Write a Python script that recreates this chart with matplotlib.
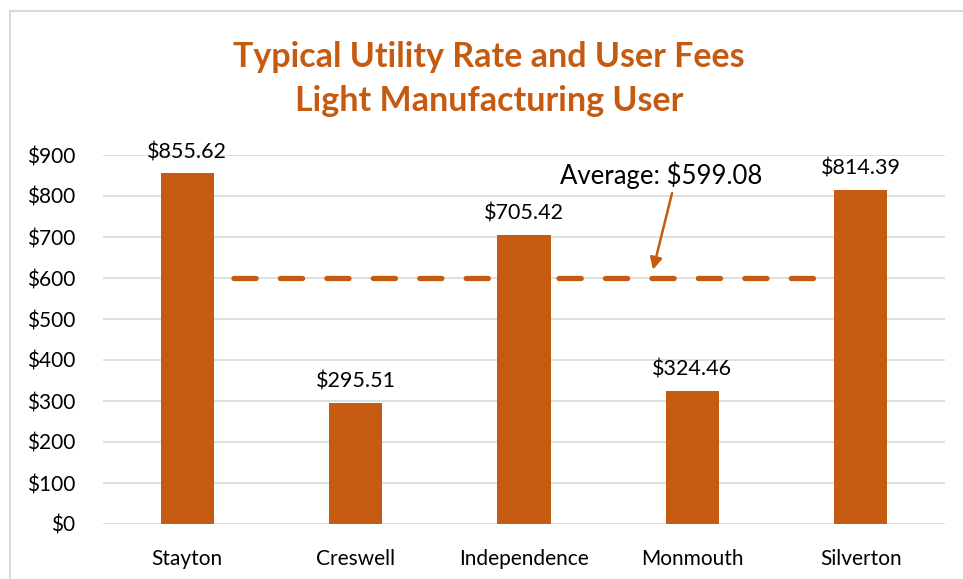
import matplotlib
matplotlib.use("Agg")
import matplotlib.pyplot as plt
from matplotlib.lines import Line2D

cities = ["Stayton", "Creswell", "Independence", "Monmouth", "Silverton"]
values = [855.62, 295.51, 705.42, 324.46, 814.39]
average = 599.08
yticks = [0, 100, 200, 300, 400, 500, 600, 700, 800, 900]

orange = "#C55A11"
plt.rcParams['font.family'] = ['Lato', 'DejaVu Sans']

fig = plt.figure(figsize=(9.63, 5.79), dpi=100)
ax = fig.add_axes([103/963, 1-524/579, 842/963, (524-155)/579])

x = list(range(len(cities)))
ax.bar(x, values, width=0.315, color=orange, zorder=3)
ax.plot([x[0], x[-1]], [average, average], color=orange, lw=3.8,
        dashes=(4.2, 4.6), dash_capstyle='round', zorder=2)

for xi, v in zip(x, values):
    ax.annotate(f"${v:,.2f}", (xi, v), xytext=(0, 8), textcoords='offset points',
                ha='center', va='bottom', fontsize=15.5, color='black')

ax.set_xlim(-0.5, len(cities) - 0.5)
ax.set_ylim(0, 900)
ax.set_yticks(yticks)
ax.set_yticklabels([f"${t}" for t in yticks], fontsize=15)
ax.set_xticks(x)
ax.set_xticklabels(cities, fontsize=15)
ax.tick_params(axis='x', length=0, pad=18)
ax.tick_params(axis='y', length=0, pad=20)
ax.grid(axis='y', color='#D9D9D9', lw=1.2, zorder=0)
for s in ax.spines.values():
    s.set_visible(False)

ax.text(2.813, 851, f"Average: ${average:.2f}", ha='center', va='center',
        fontsize=18.5, color='black')
ax.annotate("", xy=(2.766, 620), xytext=(2.879, 807),
            arrowprops=dict(arrowstyle='-|>', color=orange, lw=1.8,
                            mutation_scale=18, shrinkA=0, shrinkB=0))

fig.text(0.508, 1-57/579, "Typical Utility Rate and User Fees", ha='center', va='center',
         fontsize=24.5, fontweight='bold', color=orange)
fig.text(0.508, 1-101/579, "Light Manufacturing User", ha='center', va='center',
         fontsize=24.5, fontweight='bold', color=orange)

bx, by = 9.5/963, 1-11/579
fig.add_artist(Line2D([bx, 1.0], [by, by], transform=fig.transFigure,
                      color='#D9D9D9', lw=1.5))
fig.add_artist(Line2D([bx, bx], [0, by], transform=fig.transFigure,
                      color='#D9D9D9', lw=1.5))

fig.savefig("out.png", dpi=100)
